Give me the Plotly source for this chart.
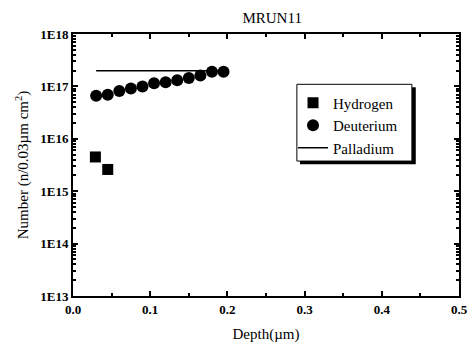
import plotly.graph_objects as go

# Depth profiles (depth in micrometres, number per 0.03 µm cm²)
hydrogen_depth = [0.029, 0.045]
hydrogen_number = [4.5e15, 2.6e15]

deuterium_depth = [0.03, 0.045, 0.06, 0.075, 0.09, 0.105, 0.12, 0.135, 0.15, 0.165, 0.18, 0.195]
deuterium_number = [6.6e16, 6.9e16, 8.2e16, 9.1e16, 1.0e17, 1.15e17, 1.2e17, 1.31e17, 1.45e17,
                    1.62e17, 1.9e17, 1.9e17]

palladium_depth = [0.03, 0.195]
palladium_number = [2.0e17, 2.0e17]

x_ticks = [0.0, 0.1, 0.2, 0.3, 0.4, 0.5]
x_tick_text = ["0.0", "0.1", "0.2", "0.3", "0.4", "0.5"]
y_ticks = [1e13, 1e14, 1e15, 1e16, 1e17, 1e18]
y_tick_text = ["1E13", "1E14", "1E15", "1E16", "1E17", "1E18"]

FONT = "Liberation Serif"

fig = go.Figure()
fig.add_trace(go.Scatter(
    x=hydrogen_depth, y=hydrogen_number, mode="markers", name="Hydrogen", legendrank=1,
    marker=dict(symbol="square", size=11, color="black"),
))
fig.add_trace(go.Scatter(
    x=palladium_depth, y=palladium_number, mode="lines", name="Palladium", legendrank=3,
    line=dict(color="black", width=1.5),
))
fig.add_trace(go.Scatter(
    x=deuterium_depth, y=deuterium_number, mode="markers", name="Deuterium", legendrank=2,
    marker=dict(symbol="circle", size=12, color="black"),
))

minor_y = [m * 10 ** e for e in range(13, 18) for m in range(2, 10)]

fig.update_layout(
    width=475, height=347,
    margin=dict(l=73, r=7, t=34, b=47),
    paper_bgcolor="white", plot_bgcolor="white",
    font=dict(family=FONT, color="black", size=14),
    title=dict(text="MRUN11", x=0.573, xanchor="center", y=0.95, yanchor="middle",
               font=dict(size=15, family=FONT)),
    showlegend=True,
    legend=dict(
        x=0.57, y=0.80, xanchor="left", yanchor="top",
        bgcolor="rgba(0,0,0,0)", borderwidth=0,
        traceorder="normal", itemwidth=30, tracegroupgap=0,
        font=dict(size=15, family=FONT),
    ),
    xaxis=dict(
        range=[0, 0.5], tickvals=x_ticks, ticktext=x_tick_text,
        showline=True, linecolor="black", linewidth=2, mirror="ticks",
        ticks="inside", ticklen=5, tickwidth=1.5, tickcolor="black",
        minor=dict(tickvals=[0.05, 0.15, 0.25, 0.35, 0.45], ticks="inside", ticklen=3,
                   tickcolor="black"),
        showgrid=False, zeroline=False,
        tickfont=dict(size=13, family=FONT, weight="bold"),
        title=dict(text="Depth(µm)", standoff=13, font=dict(size=15, family=FONT)),
    ),
    yaxis=dict(
        type="log", range=[13, 18], tickvals=y_ticks, ticktext=y_tick_text,
        showline=True, linecolor="black", linewidth=2, mirror="ticks",
        ticks="inside", ticklen=5, tickwidth=1.5, tickcolor="black",
        minor=dict(tickvals=minor_y, ticks="inside", ticklen=3, tickcolor="black"),
        showgrid=False, zeroline=False,
        tickfont=dict(size=13, family=FONT, weight="bold"),
        title=dict(text="Number (n/0.03µm cm<sup>2</sup>)", standoff=8,
                   font=dict(size=15, family=FONT)),
    ),
)

# Legend frame with drop shadow
fig.add_shape(type="rect", xref="paper", yref="paper", x0=0.588, x1=0.888, y0=0.503, y1=0.797,
              fillcolor="black", line=dict(width=0), layer="above")
fig.add_shape(type="rect", xref="paper", yref="paper", x0=0.58, x1=0.878, y0=0.515, y1=0.808,
              fillcolor="white", line=dict(color="black", width=1), layer="above")

fig.write_html("out.html")
